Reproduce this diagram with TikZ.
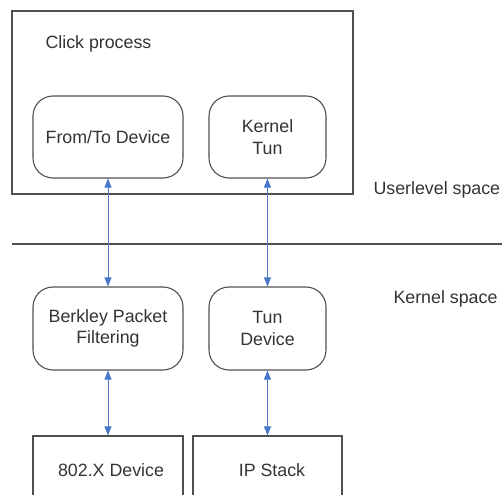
\documentclass[tikz,border=0pt]{standalone}
\usepackage{fontspec}
\setmainfont{Liberation Sans}
\usetikzlibrary{arrows.meta}
\definecolor{boxline}{HTML}{505050}
\definecolor{arrowblue}{HTML}{4A78C8}
\begin{document}
\begin{tikzpicture}[x=1pt,y=-1pt,
  every node/.style={font=\fontsize{17.8}{21.5}\selectfont, text=black!80},
  rbox/.style={draw=boxline, line width=1.1pt, rounded corners=20pt, align=center, inner sep=0pt},
  sbox/.style={draw=boxline, line width=1.1pt, align=center, inner sep=0pt},
  link/.style={draw=arrowblue, line width=1pt, {Triangle[length=9pt,width=7pt]}-{Triangle[length=9pt,width=7pt]}}]
\useasboundingbox (0,0) rectangle (502,494);
\clip (0,0) rectangle (502,494);
% outer click process box
\node[sbox, minimum width=341pt, minimum height=183pt] (click) at (182.5,102.5) {};
\node[anchor=west] (clicklbl) at (42,44) {Click process};
% separator
\coordinate (sepL) at (12,244);
\coordinate (sepR) at (502,244);
\draw[draw=boxline, line width=1.3pt] (sepL) -- (sepR);
\node[anchor=west] (user) at (370,190) {Userlevel space};
\node[anchor=west] (kern) at (390,299) {Kernel space};
% rounded boxes
\node[rbox, minimum width=150pt, minimum height=82pt] (fromto) at (108,137) {From/To Device};
\node[rbox, minimum width=117pt, minimum height=82pt] (ktun) at (267.5,137) {Kernel\\Tun};
\node[rbox, minimum width=150pt, minimum height=83pt] (bpf) at (108,328.5) {Berkley Packet\\Filtering};
\node[rbox, minimum width=117pt, minimum height=83pt] (tundev) at (267.5,328.5) {Tun\\Device};
% bottom boxes (cut by page edge)
\node[sbox, minimum width=150pt, minimum height=80pt] (dev) at (108,476) {};
\node (devlbl) at (111,470) {802.X Device};
\node[sbox, minimum width=149pt, minimum height=80pt] (ipstack) at (267.5,476) {};
\node (iplbl) at (272,470) {IP Stack};
% links
\draw[link] (fromto.south) -- (bpf.north);
\draw[link] (ktun.south) -- (tundev.north);
\draw[link] (bpf.south) -- (dev.north);
\draw[link] (tundev.south) -- (ipstack.north);
\end{tikzpicture}
\end{document}
